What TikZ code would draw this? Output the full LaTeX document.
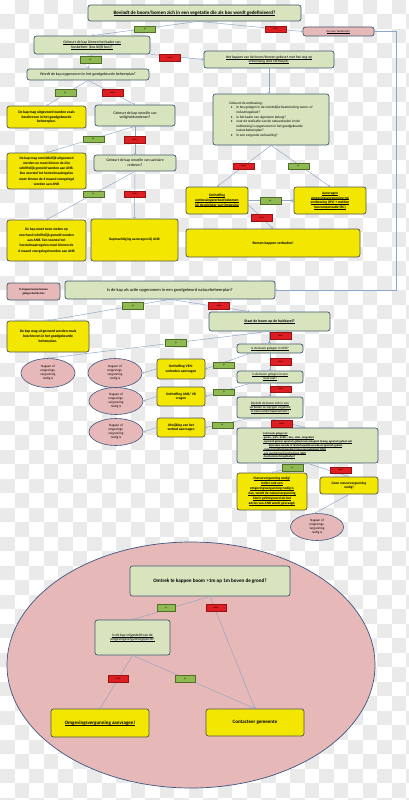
\documentclass[tikz,border=0pt]{standalone}
\usepackage{fontspec}
\setmainfont{Carlito}
\usetikzlibrary{arrows.meta,shapes.geometric}
\definecolor{gfill}{RGB}{215,228,189}
\definecolor{bcol}{RGB}{62,88,112}
\definecolor{yfill}{RGB}{243,231,0}
\definecolor{ycol}{RGB}{80,84,80}
\definecolor{pfill}{RGB}{230,184,183}
\definecolor{ecol}{RGB}{60,86,130}
\definecolor{jfill}{RGB}{143,186,82}
\definecolor{jdraw}{RGB}{80,110,40}
\definecolor{nfill}{RGB}{222,30,34}
\definecolor{ndraw}{RGB}{150,20,20}
\definecolor{ccol}{RGB}{140,165,200}
\definecolor{chkcol}{RGB}{234,234,234}
\newcommand\fsz[2]{\fontsize{#1}{#2}\selectfont}
\newcommand\U[1]{\setbox0\hbox{#1}\leavevmode\rlap{\rule[-0.17em]{\wd0}{0.06em}}\box0}
\newcommand\Bu{\makebox[7pt][l]{\hspace{1.5pt}\textbullet}}
\newcommand\In{\hspace*{7pt}}
\tikzset{
  box/.style={draw=bcol, line width=0.7pt, rounded corners=2.5pt, align=center, inner sep=0.5pt},
  gbox/.style={box, fill=gfill},
  ybox/.style={box, fill=yfill, draw=ycol},
  pbox/.style={box, fill=pfill},
  ell/.style={ellipse, draw=ecol, line width=0.6pt, fill=pfill, align=center, inner sep=0pt},
  lab/.style={line width=0.3pt, inner sep=0pt, minimum width=21pt, minimum height=6.5pt, font=\fsz{2.4}{2.8}},
  jal/.style={lab, fill=jfill, draw=jdraw},
  nel/.style={lab, fill=nfill, draw=ndraw},
  conn/.style={draw=ccol, line width=0.45pt, -{To[length=1.8pt,width=2.6pt]}},
  plain/.style={draw=ccol, line width=0.45pt},
}
\begin{document}
\begin{tikzpicture}[x=1pt,y=-1pt]
\useasboundingbox (0,0) rectangle (408,800);
\fill[white] (0,0) rectangle (408,800);
\foreach \i in {0,...,28}{\foreach \j in {0,...,55}{
  \pgfmathtruncatemacro\chk{mod(\i+\j,2)}
  \ifnum\chk=1 \fill[chkcol] (\i*14.5,\j*14.5) rectangle ++(14.5,14.5);\fi}}

% ---------- upper part ----------
\node[gbox, minimum width=213pt, minimum height=16pt, font=\bfseries\fsz{5}{6}] (top) at (194.5,13)
  {\U{Bevindt de boom/bomen zich in een vegetatie die als bos wordt gedefinieerd?}};
\node[pbox, minimum width=71pt, minimum height=9pt, font=\fsz{2.9}{3.5}] (gnbb) at (338.5,31.5)
  {\U{Ga naar `buiten bos'}};
\node[gbox, minimum width=116pt, minimum height=18pt, font=\fsz{3.8}{4.7}] (kader) at (92,45)
  {\U{Gebeurt de kap binnen het kader van}\\\U{bosbeheer (bos blijft bos)?}};
\node[gbox, minimum width=130pt, minimum height=17pt, font=\fsz{3.7}{4.6}] (ontb1) at (269,59.5)
  {\U{Het kappen van de boom/bomen gebeurt met het oog op}\\\U{ontbossing (bos verdwijnt).}};
\node[gbox, minimum width=122pt, minimum height=11pt, font=\fsz{3.9}{4.7}] (bplan) at (88,74.5)
  {Wordt de kap opgenomen in het goedgekeurde beheerplan?};
\node[ybox, minimum width=79pt, minimum height=22pt, font=\bfseries\fsz{3.7}{4.6}] (y1) at (46.5,117)
  {De kap mag uitgevoerd worden zoals\\beschreven in het goedgekeurde\\beheerplan.};
\node[gbox, minimum width=80pt, minimum height=21pt, font=\fsz{3.8}{4.7}] (veilig) at (135,115.5)
  {Gebeurt de kap omwille van\\veiligheidsredenen?};
\node[gbox, minimum width=116pt, minimum height=51pt, align=left, font=\fsz{3.5}{4.6}] (ontb2) at (271,119.5)
  {Gebeurt de ontbossing:\\
   \Bu in bos gelegen in de ruimtelijke bestemming woon- of\\
   \In industriegebied?\\
   \Bu in het kader van algemeen belang?\\
   \Bu voor de realisatie van de natuurdoelen én de\\
   \In ontbossing is opgenomen in het goedgekeurde\\
   \In natuurbeheerplan?\\
   \Bu in een vergunde verkaveling?};
\node[ybox, minimum width=79pt, minimum height=36pt, font=\bfseries\fsz{3.6}{5.2}] (y2) at (46.5,171)
  {De kap mag onmiddellijk uitgevoerd\\worden en moet binnen de 24u\\schriftelijk gemeld worden aan ANB.\\Een voorstel tot herstelmaatregelen\\moet binnen de 6 maand voorgelegd\\worden aan ANB};
\node[gbox, minimum width=82pt, minimum height=16pt, font=\fsz{3.8}{4.7}] (sanit) at (135,163)
  {Gebeurt de kap omwille van sanitaire\\redenen?};
\node[ybox, minimum width=62pt, minimum height=27pt, font=\bfseries\fsz{3.6}{4.6}] (onth) at (217,200.5)
  {\U{Ontheffing}\\\U{ontbossingsverbod bekomen}\\\U{bij de minister van Omgeving}};
\node[ybox, minimum width=72pt, minimum height=27pt, font=\bfseries\fsz{3.6}{4.6}] (aanvr) at (330,200.5)
  {\U{Aanvragen}\\\U{omgevingsvergunning tot}\\\U{ontbossing (OV) + melden}\\\U{boscompensatie (BC)}};
\node[ybox, minimum width=174pt, minimum height=28pt, font=\bfseries\fsz{3.8}{4.6}] (verb) at (273,243)
  {Bomen kappen verboden!};
\node[ybox, minimum width=79pt, minimum height=41pt, font=\bfseries\fsz{3.6}{5.3}] (y3) at (46.5,240.5)
  {De kap moet twee weken op\\voorhand schriftelijk gemeld worden\\aan ANB. Een voorstel tot\\herstelmaatregelen moet binnen de\\6 maand voorgelegd worden aan ANB};
\node[ybox, minimum width=87pt, minimum height=42pt, font=\bfseries\fsz{3.6}{4.6}] (kapm) at (134.5,240)
  {Kapmachtiging aanvragen bij ANB};

% ---------- middle part ----------
\node[pbox, minimum width=53pt, minimum height=17pt, font=\bfseries\fsz{2.8}{3.6}] (buiten) at (33.5,291.5)
  {Te kappen boom/bomen\\gelegen buiten bos};
\node[gbox, minimum width=210pt, minimum height=18pt, font=\fsz{4.4}{5.2}] (nbplan) at (170,290)
  {Is de kap als actie opgenomen in een goedgekeurd natuurbeheerplan?};
\node[ybox, minimum width=82pt, minimum height=31pt, font=\bfseries\fsz{3.7}{4.6}] (y4) at (48,336.5)
  {De kap mag uitgevoerd worden zoals\\beschreven in het goedgekeurde\\beheerplan.};
\node[gbox, minimum width=121pt, minimum height=19pt, font=\bfseries\fsz{3.8}{4.6}] (huis) at (269.5,321.5)
  {\U{Staat de boom op de huiskavel?}};
\node[gbox, minimum width=66pt, minimum height=9pt, font=\fsz{3.3}{4.1}] (ven) at (270,348.5)
  {\U{Is de boom gelegen in VEN?}};
\node[ell, minimum width=54pt, minimum height=29pt, font=\fsz{3.3}{4}] (e1) at (48,373)
  {Nagaan of\\omgevings-\\vergunning\\nodig is};
\node[ell, minimum width=54pt, minimum height=29pt, font=\fsz{3.3}{4}] (e2) at (115,373)
  {Nagaan of\\omgevings-\\vergunning\\nodig is};
\node[ybox, minimum width=48pt, minimum height=20pt, font=\bfseries\fsz{3.6}{4.6}] (onven) at (181,369)
  {Ontheffing VEN-\\verboden aanvragen};
\node[gbox, minimum width=66pt, minimum height=12pt, font=\fsz{3.3}{4.1}] (reserv) at (270,377)
  {\U{Is de boom gelegen in een}\\\U{reservaat?}};
\node[ell, minimum width=54pt, minimum height=27pt, font=\fsz{3.3}{4}] (e3) at (116,401)
  {Nagaan of\\omgevings-\\vergunning\\nodig is};
\node[ybox, minimum width=48pt, minimum height=19pt, font=\bfseries\fsz{3.6}{4.6}] (onanb) at (181,396.5)
  {Ontheffing ANB/ VR\\vragen};
\node[gbox, minimum width=66pt, minimum height=21pt, font=\fsz{3.3}{4.1}] (kle) at (270,407.5)
  {\U{Bevindt de boom zich in een}\\\U{verboden te wijzigen vegetatie}\\\U{of klein landschapselement?}};
\node[ell, minimum width=54pt, minimum height=27pt, font=\fsz{3.3}{4}] (e4) at (116,432)
  {Nagaan of\\omgevings-\\vergunning\\nodig is};
\node[ybox, minimum width=48pt, minimum height=19pt, font=\bfseries\fsz{3.6}{4.6}] (afw) at (181,427.5)
  {Afwijking van het\\verbod aanvragen};
\node[gbox, minimum width=141pt, minimum height=35pt, align=left, font=\bfseries\fsz{2.7}{3.9}] (gel) at (307.5,445.5)
  {\U{Is de boom gelegen in:}\\
   \U{- groen-, park-, buffer-, bos-, valei-, bosgebied}\\
   \U{- agrarisch gebied, agrarisch gebied met ecologisch belang, agrarisch gebied met}\\
   \hspace*{6pt}\U{bijzondere waarde of landschappelijk waardevol agrarisch gebied,}\\
   \U{- natuurontwikkelingsgebied/ bosreservaatgebied, IVON,}\\
   \U{- een speciale beschermingszone (SBZ),}\\
   \U{- beschermde duingebieden?}};
\node[ybox, minimum width=70pt, minimum height=37pt, font=\bfseries\fsz{3.5}{5}] (natv) at (272,491.5)
  {\U{Natuurvergunning nodig!}\\\U{Indien ook een}\\\U{omgevingsvergunning nodig is}\\\U{dan, wordt de natuurvergunning}\\\U{hierin geïntegreerd als het}\\\U{advies van ANB wordt gevraagd.}};
\node[ybox, minimum width=58pt, minimum height=17pt, font=\bfseries\fsz{3.5}{4.5}] (geen) at (349,485.5)
  {Geen natuurvergunning\\nodig!};
\node[ell, minimum width=53pt, minimum height=27pt, font=\fsz{3.3}{4}] (e5) at (317,527)
  {Nagaan of\\omgevings-\\vergunning\\nodig is};

% ---------- lower part ----------
\node[ellipse, draw=ecol, line width=0.7pt, fill=pfill, minimum width=368pt, minimum height=246pt] (bigell) at (191,665) {};
\node[gbox, minimum width=160pt, minimum height=30pt, font=\bfseries\fsz{5.1}{6}] (omtrek) at (210,581)
  {Omtrek te kappen boom >1m op 1m boven de grond?};
\node[gbox, minimum width=75pt, minimum height=35pt, font=\fsz{3.7}{4.6}] (vrij) at (132.5,637.5)
  {\U{Is de kap vrijgesteld van de}\\\U{omgevingsvergunningsplicht?}};
\node[ybox, minimum width=98pt, minimum height=28pt, font=\bfseries\fsz{5}{6}] (ova) at (100,723)
  {\U{Omgevingsvergunning aanvragen!}};
\node[ybox, minimum width=98pt, minimum height=27pt, font=\bfseries\fsz{5}{6}] (cont) at (255,722.5)
  {Contacteer gemeente};

% ---------- connectors ----------
\coordinate (rc1) at (396,31.5);
\coordinate (rc2) at (396,290);
\draw[conn] ([xshift=4pt]top.south) -- (kader.north);
\draw[conn] ([xshift=4pt]top.south) -- (gnbb.west);
\draw[conn] (gnbb.east) -- (rc1) -- (rc2) -- (nbplan.east);
\draw[conn] (kader.south east) -- (ontb1.west);
\draw[conn] (kader.south) -- (bplan.north);
\draw[conn] (ontb1.south) -- (ontb1.south |- ontb2.north);
\draw[conn] (bplan.south) -- (y1.north);
\draw[conn] (bplan.south) -- (veilig.north);
\draw[conn] (veilig.south) -- (y2.north);
\draw[conn] (veilig.south) -- (sanit.north);
\draw[conn] (sanit.south) -- (y3.north);
\draw[conn] (sanit.south) -- (kapm.north);
\draw[conn] (ontb2.south) -- (onth.north);
\draw[conn] (ontb2.south) -- (aanvr.north);
\draw[conn] (onth.east) -- (aanvr.west);
\draw[conn] ([yshift=-4.5pt]onth.east) -- (verb.north);
\draw[conn] (nbplan.south) -- (y4.north);
\draw[conn] (nbplan.south) -- ([xshift=-20pt]huis.north);
\draw[conn] (huis.south) -- (huis.south |- ven.north);
\draw[conn] (huis.south) -- (e1.north);
\draw[conn] ([xshift=-20pt]ven.south) -- (onven.east);
\draw[conn] (onven.west) -- (e2.east);
\draw[conn] (ven.south) -- (reserv.north);
\draw[conn] ([xshift=-20pt]reserv.south) -- (onanb.east);
\draw[conn] (onanb.west) -- (e3.east);
\draw[conn] (reserv.south) -- (kle.north);
\draw[conn] ([xshift=-20pt]kle.south) -- (afw.east);
\draw[conn] (afw.west) -- (e4.east);
\draw[conn] (kle.south) -- ([xshift=-2.5pt]gel.north);
\draw[conn] (gel.south) -- (natv.north);
\draw[conn] (gel.south) -- (geen.north);
\draw[conn] (geen.south) -- ([xshift=-2pt]e5.north);
\draw[conn] (omtrek.south) -- (vrij.north);
\draw[conn] (omtrek.south) -- (cont.north);
\draw[conn] (vrij.south) -- (ova.north);
\draw[conn] (vrij.south) -- (cont.north);

% ---------- labels ----------
\node[jal] (l1) at (145,29) {ja};
\node[nel] (l2) at (275.5,29) {neen};
\node[jal] (l3) at (90.5,59.5) {ja};
\node[nel] (l4) at (170,57.5) {neen};
\node[jal] (l5) at (65.5,92.5) {ja};
\node[nel] (l6) at (112.5,92.5) {neen};
\node[jal] (l7) at (93.5,139) {ja};
\node[nel] (l8) at (134.5,139.5) {neen};
\node[nel] (l9) at (243.5,166) {neen};
\node[jal] (l10) at (298.5,166) {ja};
\node[jal] (l11) at (93.5,194) {ja};
\node[nel] (l12) at (134.5,194) {neen};
\node[jal] (l13) at (270.5,200.5) {ja};
\node[nel] (l14) at (261.5,217.5) {neen};
\node[jal] (l15) at (133,305.5) {ja};
\node[nel] (l16) at (219,305.5) {neen};
\node[jal] (l17) at (176,342.5) {ja};
\node[nel] (l18) at (280.5,335.5) {neen};
\node[jal] (l19) at (224,365) {ja};
\node[nel] (l20) at (280.5,361.5) {neen};
\node[jal] (l21) at (224,392) {ja};
\node[nel] (l22) at (280.5,389) {neen};
\node[jal] (l23) at (222.5,425) {ja};
\node[nel] (l24) at (281.5,423.5) {neen};
\node[jal] (l25) at (292.5,467.5) {ja};
\node[nel] (l26) at (340.5,470) {neen};
\node[jal, minimum width=18pt] (l27) at (166,607.5) {ja};
\node[nel, minimum width=20pt] (l28) at (216,607.5) {neen};
\node[nel, minimum width=20pt] (l29) at (118,678.5) {neen};
\node[jal, minimum width=20pt] (l30) at (185.5,678.5) {ja};
\end{tikzpicture}
\end{document}
